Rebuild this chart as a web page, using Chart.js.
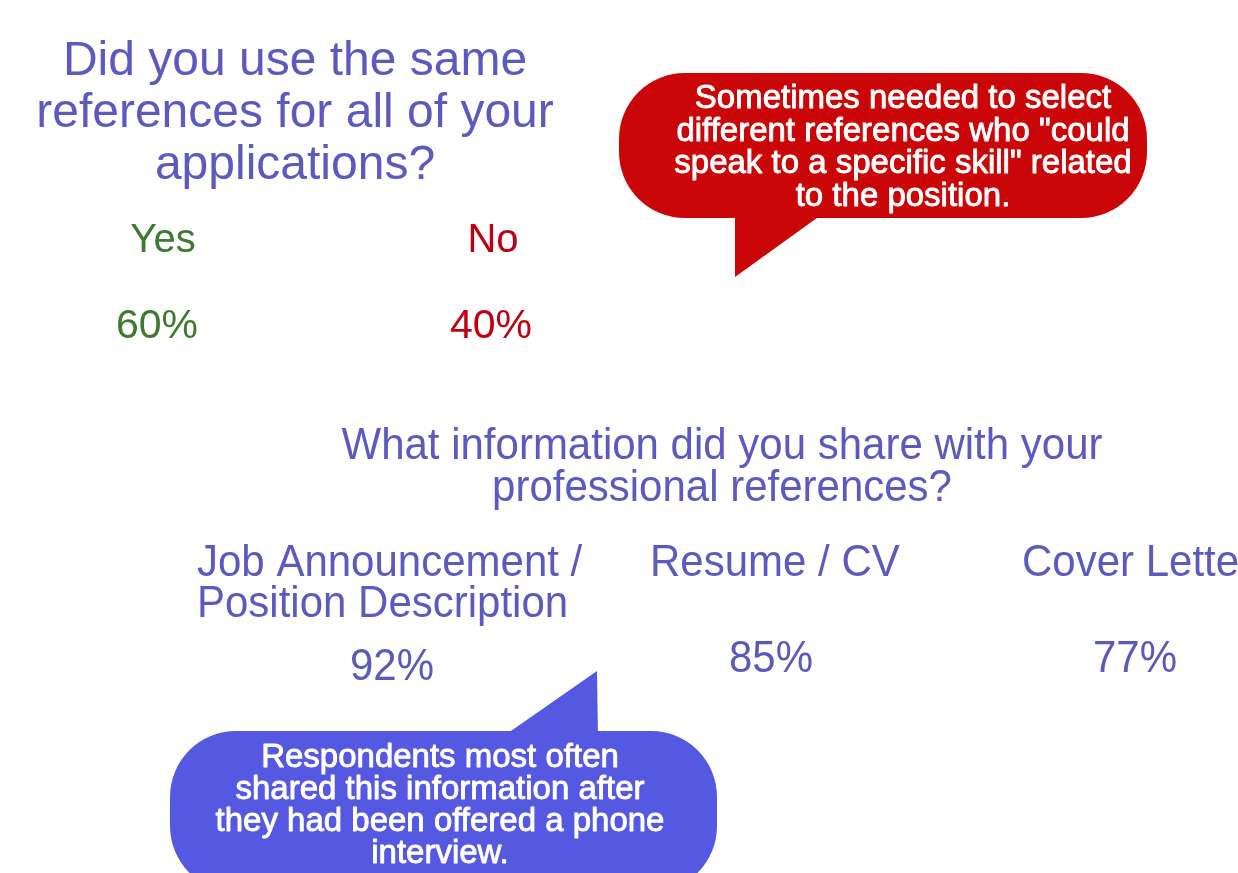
<!DOCTYPE html>
<html>
<head>
<meta charset="utf-8">
<script src="https://cdn.jsdelivr.net/npm/chart.js@4.4.1/dist/chart.umd.min.js"></script>
<style>
  html, body { margin: 0; padding: 0; background: #ffffff; }
  #wrap { width: 1238px; height: 873px; position: relative; }
</style>
</head>
<body>
<div id="wrap"><canvas id="c" width="1238" height="873"></canvas></div>
<script>
// ---------------- DATA ----------------
const q1TitleLines = ["Did you use the same", "references for all of your", "applications?"];
const q1Categories = ["Yes", "No"];
const q1Values = [60, 40];
const q1NoteLines = ["Sometimes needed to select", "different references who \"could", "speak to a specific skill\" related", "to the position."];

const q2TitleLines = ["What information did you share with your", "professional references?"];
const q2Categories = [["Job Announcement /", "Position Description"], ["Resume / CV"], ["Cover Letter"]];
const q2Values = [92, 85, 77];
const q2NoteLines = ["Respondents most often", "shared this information after", "they had been offered a phone", "interview."];

// ---------------- LAYOUT (positions & styles) ----------------
const FONT = '"Liberation Sans", Arial, Helvetica, sans-serif';
const layout = {
  q1Title: { cx: 295, base: 75, pitch: 52, size: 48, color: '#5a5ac0' },
  q1Cats: { cx: [163, 493], base: 252, size: 40, colors: ['#3e7a2f', '#c00010'] },
  q1Vals: { cx: [157, 491], base: 338, size: 41 },
  q1Bubble: { x0: 619, x1: 1147, y0: 73, y1: 218, r: 66, tail: [[735, 210], [735, 277], [828, 210]], fill: '#ca0608' },
  q1Note: { cx: 903, base: 108, pitch: 32.5, size: 33, color: '#ffffff' },
  q2Title: { cx: 722, base: 459, pitch: 42, size: 42, color: '#5a5ac0', sy: 1.07 },
  q2Cats: { x: [197, 650, 1022], base: 576, pitch: 41, size: 42, color: '#5a5ac0', sy: 1.07 },
  q2Vals: { cx: [392, 771, 1135], base: [680, 672, 672], size: 42, color: '#5a5ab8', sy: 1.07 },
  q2Bubble: { x0: 170, x1: 717, y0: 731, y1: 892, r: 66, tail: [[498, 740], [597, 671], [598, 740]], fill: '#5558e0' },
  q2Note: { cx: 440, base: 767, pitch: 32, size: 33, color: '#ffffff' }
};

function drawBubble(ctx, xs, ys, b) {
  const x0 = xs(b.x0), x1 = xs(b.x1), y0 = ys(b.y0), y1 = ys(b.y1);
  ctx.save();
  ctx.fillStyle = b.fill;
  ctx.beginPath();
  ctx.roundRect(x0, y0, x1 - x0, y1 - y0, b.r);
  ctx.fill();
  ctx.beginPath();
  ctx.moveTo(xs(b.tail[0][0]), ys(b.tail[0][1]));
  ctx.lineTo(xs(b.tail[1][0]), ys(b.tail[1][1]));
  ctx.lineTo(xs(b.tail[2][0]), ys(b.tail[2][1]));
  ctx.closePath();
  ctx.fill();
  ctx.restore();
}

function text(ctx, str, x, y, size, color, align, opts) {
  opts = opts || {};
  ctx.save();
  ctx.translate(x, y);
  if (opts.sy) ctx.scale(1, opts.sy);
  ctx.font = 'normal ' + size + 'px ' + FONT;
  ctx.fillStyle = color;
  ctx.textAlign = align || 'center';
  ctx.textBaseline = 'alphabetic';
  ctx.fillText(str, 0, 0);
  if (opts.thick) {
    ctx.strokeStyle = color;
    ctx.lineWidth = opts.thick;
    ctx.lineJoin = 'round';
    ctx.strokeText(str, 0, 0);
  }
  ctx.restore();
}

const infographicPlugin = {
  id: 'infographic',
  beforeDatasetsDraw(chart) {
    const ctx = chart.ctx;
    const xsc = chart.scales.x, ysc = chart.scales.y;
    const xs = v => xsc.getPixelForValue(v);
    const ys = v => ysc.getPixelForValue(v);
    const L = layout;

    // Question 1 title
    q1TitleLines.forEach((ln, i) => text(ctx, ln, xs(L.q1Title.cx), ys(L.q1Title.base + i * L.q1Title.pitch), L.q1Title.size, L.q1Title.color));
    // Q1 categories and values
    q1Categories.forEach((c, i) => {
      text(ctx, c, xs(L.q1Cats.cx[i]), ys(L.q1Cats.base), L.q1Cats.size, L.q1Cats.colors[i]);
      text(ctx, q1Values[i] + '%', xs(L.q1Vals.cx[i]), ys(L.q1Vals.base), L.q1Vals.size, L.q1Cats.colors[i]);
    });
    // Q1 callout
    drawBubble(ctx, xs, ys, L.q1Bubble);
    q1NoteLines.forEach((ln, i) => text(ctx, ln, xs(L.q1Note.cx), ys(L.q1Note.base + i * L.q1Note.pitch), L.q1Note.size, L.q1Note.color, 'center', { thick: 0.9 }));

    // Question 2 title
    q2TitleLines.forEach((ln, i) => text(ctx, ln, xs(L.q2Title.cx), ys(L.q2Title.base + i * L.q2Title.pitch), L.q2Title.size, L.q2Title.color, 'center', { sy: L.q2Title.sy }));
    // Q2 categories and values
    q2Categories.forEach((lines, i) => {
      lines.forEach((ln, j) => text(ctx, ln, xs(L.q2Cats.x[i]), ys(L.q2Cats.base + j * L.q2Cats.pitch), L.q2Cats.size, L.q2Cats.color, 'left', { sy: L.q2Cats.sy }));
      text(ctx, q2Values[i] + '%', xs(L.q2Vals.cx[i]), ys(L.q2Vals.base[i]), L.q2Vals.size, L.q2Vals.color, 'center', { sy: L.q2Vals.sy });
    });
    // Q2 callout
    drawBubble(ctx, xs, ys, L.q2Bubble);
    q2NoteLines.forEach((ln, i) => text(ctx, ln, xs(L.q2Note.cx), ys(L.q2Note.base + i * L.q2Note.pitch), L.q2Note.size, L.q2Note.color, 'center', { thick: 0.9 }));
  }
};

const bgPlugin = {
  id: 'bg',
  beforeDraw(chart) {
    const ctx = chart.ctx;
    ctx.save();
    ctx.fillStyle = '#ffffff';
    ctx.fillRect(0, 0, chart.width, chart.height);
    ctx.restore();
  }
};

new Chart(document.getElementById('c'), {
  type: 'scatter',
  data: {
    datasets: [
      { label: 'Same references', data: q1Values.map((v, i) => ({ x: layout.q1Vals.cx[i], y: layout.q1Vals.base, v })), pointRadius: 0 },
      { label: 'Information shared', data: q2Values.map((v, i) => ({ x: layout.q2Vals.cx[i], y: layout.q2Vals.base[i], v })), pointRadius: 0 }
    ]
  },
  options: {
    responsive: false,
    animation: false,
    devicePixelRatio: 1,
    layout: { padding: 0 },
    events: [],
    plugins: { legend: { display: false }, tooltip: { enabled: false }, title: { display: false } },
    scales: {
      x: { type: 'linear', min: 0, max: 1238, display: false },
      y: { type: 'linear', min: 0, max: 873, reverse: true, display: false }
    }
  },
  plugins: [bgPlugin, infographicPlugin]
});
</script>
</body>
</html>
